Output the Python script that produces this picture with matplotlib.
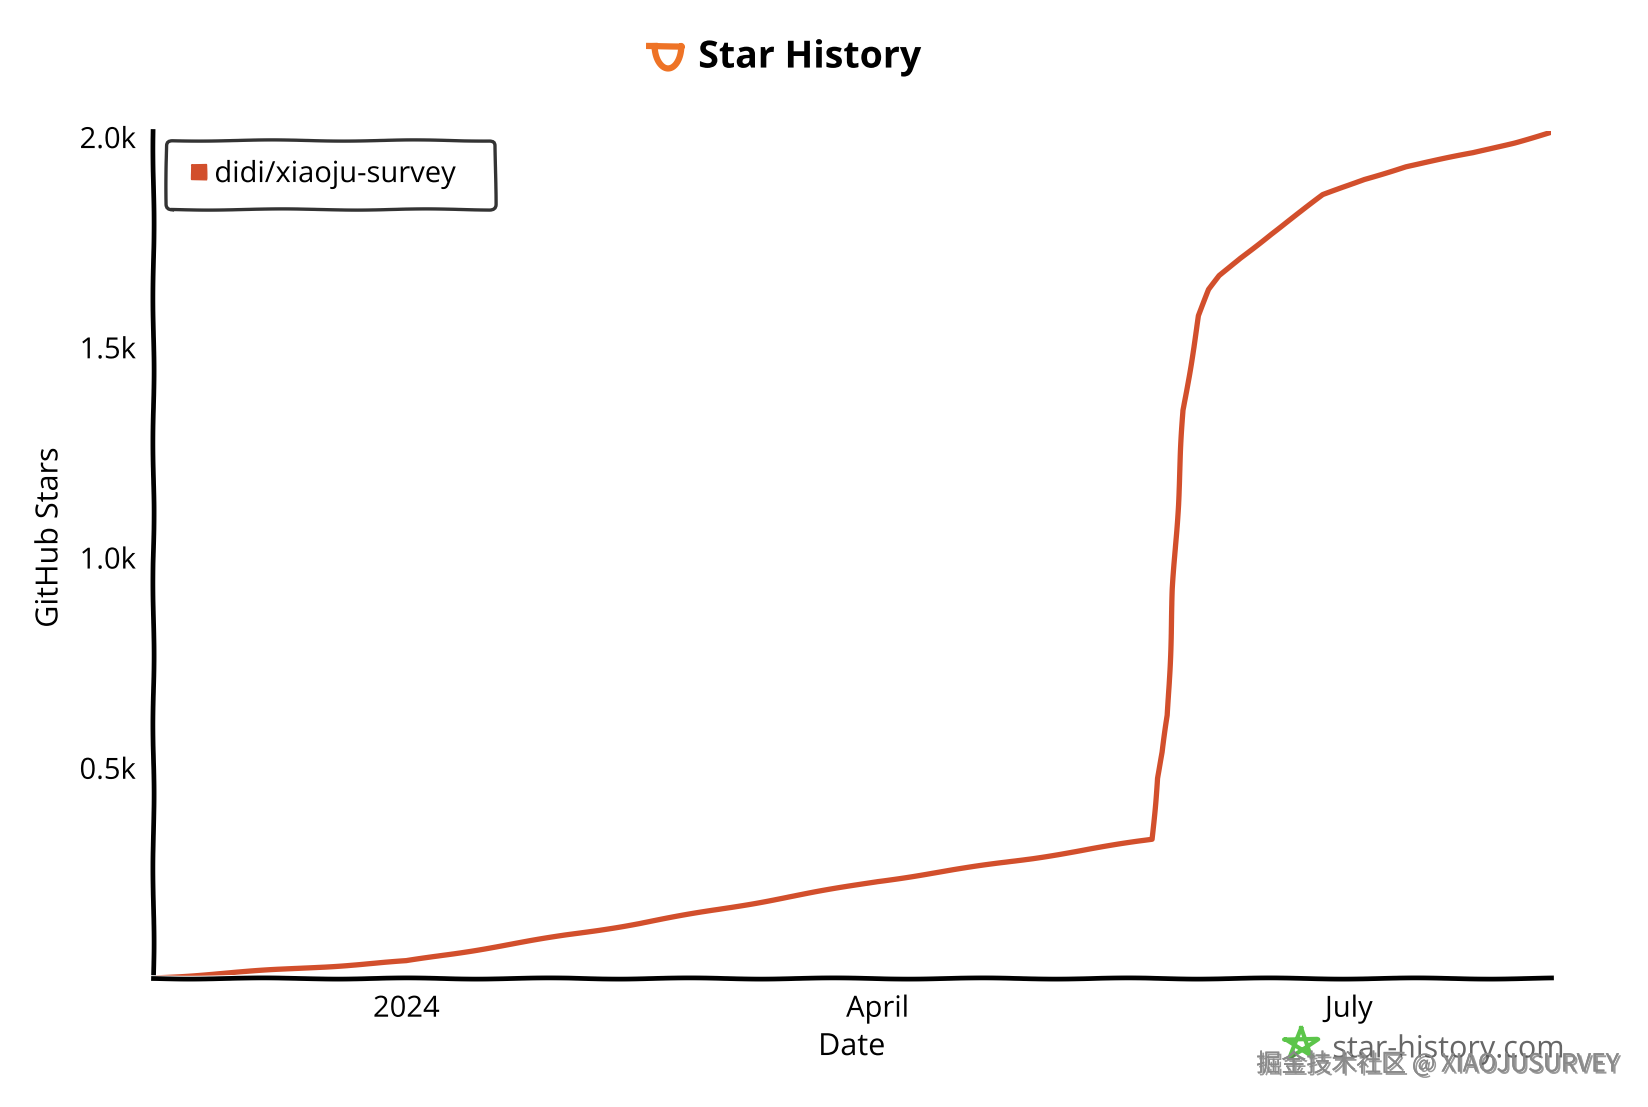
import numpy as np
import pandas as pd
import matplotlib
matplotlib.use('Agg')
import matplotlib.pyplot as plt
import matplotlib.patheffects as pe

# star history data
dates = ['2023-11-13', '2024-01-01', '2024-02-15', '2024-04-01', '2024-05-01',
         '2024-05-24', '2024-05-25', '2024-05-26', '2024-05-27', '2024-05-28',
         '2024-05-29', '2024-05-30', '2024-06-01', '2024-06-02', '2024-06-04',
         '2024-06-06', '2024-06-10', '2024-06-16', '2024-06-26', '2024-07-04',
         '2024-07-12', '2024-07-25', '2024-08-02', '2024-08-09']
stars = [0, 40, 130, 230, 285,
         330, 475, 537, 625, 925,
         1125, 1350, 1500, 1575, 1637,
         1670, 1712, 1770, 1862, 1900,
         1930, 1962, 1987, 2012]
yticks = [500, 1000, 1500, 2000]
ytick_labels = ['0.5k', '1.0k', '1.5k', '2.0k']
xticks = ['2024-01-01', '2024-04-01', '2024-07-01']
xtick_labels = ['2024', 'April', 'July']
repo = 'didi/xiaoju-survey'

red = '#d24f2c'

plt.xkcd(scale=0.6, length=150, randomness=1.5)
plt.rcParams['font.family'] = ['Open Sans', 'Noto Sans CJK SC', 'DejaVu Sans']

fig = plt.figure(figsize=(16.49, 11.07), dpi=100)
ax = fig.add_axes([0.0925, 0.1165, 0.848, 0.765])

x = pd.to_datetime(dates)
ax.plot(x, stars, color=red, lw=3.8, solid_capstyle='round')

ax.set_xlim(pd.Timestamp('2023-11-13'), pd.Timestamp('2024-08-09'))
ax.set_ylim(0, 2014)
ax.set_yticks(yticks)
ax.set_yticklabels(ytick_labels)
ax.set_xticks(pd.to_datetime(xticks))
ax.set_xticklabels(xtick_labels)
ax.tick_params(length=0, labelsize=21, pad=12)
for s in ['top', 'right']:
    ax.spines[s].set_visible(False)
for s in ['left', 'bottom']:
    ax.spines[s].set_linewidth(3.4)
    ax.spines[s].set_color('black')

ax.set_xlabel('Date', fontsize=22, labelpad=6)
ax.set_ylabel('GitHub Stars', fontsize=22)
ax.yaxis.set_label_coords(-0.063, 0.52)

# legend
ax.plot([], [], color=red, marker='s', ms=11, ls='none', label=repo)
leg = ax.legend(loc='upper left', fontsize=21, frameon=True, handletextpad=0.15,
                handlelength=0.8, borderpad=0.7, borderaxespad=0.0,
                mode='expand', bbox_to_anchor=(0.0098, 0.0, 0.235, 0.99),
                fancybox=True)
leg.get_frame().set_edgecolor('black')
leg.get_frame().set_linewidth(2.4)

# title + orange cup icon
fig.text(0.491, 0.948, 'Star History', fontsize=27, fontweight='bold',
         ha='center', va='center')
ic = fig.add_axes([0.392, 0.934, 0.024, 0.032])
t = np.linspace(np.pi, 2 * np.pi, 40)
ic.plot(np.r_[-1.4, 1.0, np.cos(t[::-1])], np.r_[1.0, 1.0, np.sin(t[::-1]) * 1.1 + 1.0],
        color='#ee7326', lw=4.5)
ic.set_xlim(-1.6, 1.3)
ic.set_ylim(-0.3, 1.4)
ic.axis('off')

# star-history.com watermark
fig.text(0.808, 0.052, 'star-history.com', fontsize=22, color='#666666',
         ha='left', va='center')
st = fig.add_axes([0.776, 0.040, 0.026, 0.034])
ang = np.pi / 2 + np.arange(6) * 4 * np.pi / 5
st.plot(np.cos(ang), np.sin(ang), color='#5cc54a', lw=3)
st.set_xlim(-1.2, 1.2)
st.set_ylim(-1.2, 1.2)
st.axis('off')

# juejin watermark
fig.text(0.982, 0.0386, '掘金技术社区 @ XIAOJUSURVEY', fontsize=18, color='#8a8a8a',
         ha='right', va='center', family=['Noto Sans CJK SC', 'DejaVu Sans'],
         path_effects=[pe.withSimplePatchShadow(offset=(1.5, -1.5), shadow_rgbFace='#555555', alpha=0.6),
                       pe.Normal()])

fig.savefig('out.png', dpi=100, facecolor='white')
